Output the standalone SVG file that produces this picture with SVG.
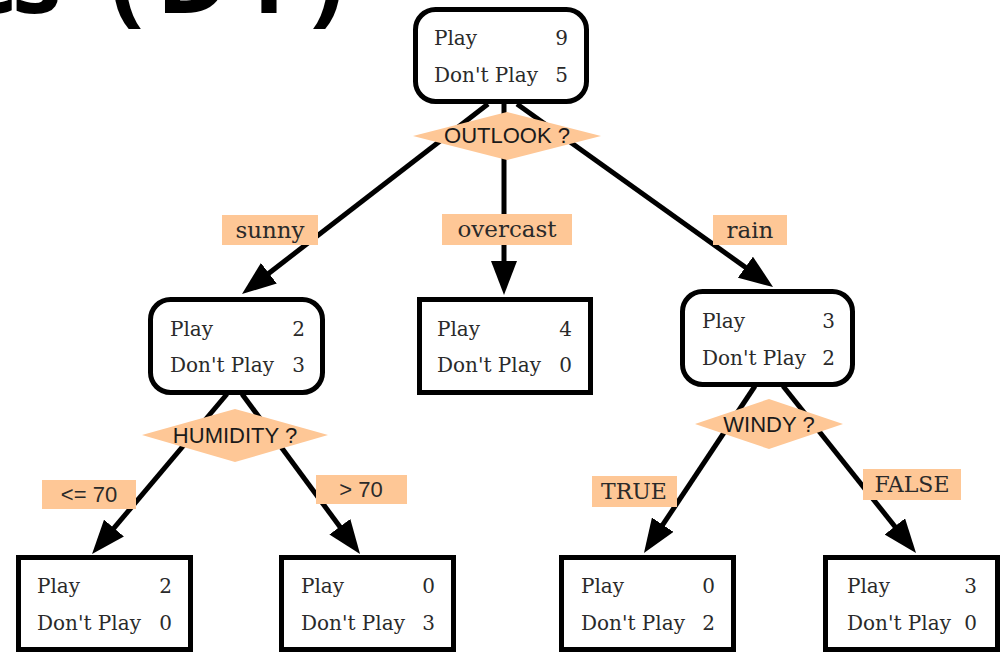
<svg xmlns="http://www.w3.org/2000/svg" width="1002" height="653" viewBox="0 0 1002 653">
<style>
.box{fill:#fff;stroke:#000;stroke-width:5}
.dia{fill:#fec796;stroke:none}
.lbl{fill:#fec796;stroke:none}
.nt{font-family:"DejaVu Serif",serif;font-size:20px;fill:#2a2a2a}
.nv{font-family:"DejaVu Serif",serif;font-size:20px;fill:#2a2a2a;text-anchor:end}
.qt{font-family:"Liberation Sans",Arial,sans-serif;font-size:22px;fill:#1a1a1a;text-anchor:middle}
.et{font-family:"DejaVu Serif",serif;font-size:23px;fill:#2a2a2a;text-anchor:middle}
.et2{font-family:"DejaVu Serif",serif;font-size:22px;fill:#2a2a2a;text-anchor:middle}
.es{font-family:"Liberation Sans",Arial,sans-serif;font-size:22px;fill:#2a2a2a;text-anchor:middle}
.edge{stroke:#000;stroke-width:5;fill:none;marker-end:url(#arr)}
.head{font-family:"Open Sans",sans-serif;font-weight:700;font-size:100px;fill:#000}
</style>
<defs>
<marker id="arr" markerUnits="userSpaceOnUse" viewBox="0 0 34 26" markerWidth="34" markerHeight="26" refX="24" refY="13" orient="auto">
<path d="M0,0 L34,13 L0,26 Z" fill="#000"/>
</marker>
</defs>
<text class="head" x="-40 12 100 110 156 240 310" y="13">es (DT)</text>
<g id="connectors">
<line class="edge" x1="488" y1="104" x2="249.9" y2="287.9"/>
<line class="edge" x1="504" y1="104" x2="504" y2="285"/>
<line class="edge" x1="517" y1="104" x2="764.9" y2="281.2"/>
<line class="edge" x1="227" y1="394" x2="98.5" y2="546.4"/>
<line class="edge" x1="242" y1="394" x2="354.1" y2="546"/>
<line class="edge" x1="755" y1="386" x2="649.5" y2="544.7"/>
<line class="edge" x1="783" y1="386" x2="909.8" y2="545.2"/>
<rect class="lbl" x="222" y="215" width="96" height="30"/>
<text class="et" x="270" y="238">sunny</text>
<rect class="lbl" x="442" y="214" width="130" height="31"/>
<text class="et" x="507" y="237">overcast</text>
<rect class="lbl" x="713" y="215" width="74" height="30"/>
<text class="et" x="750" y="238">rain</text>
<rect class="lbl" x="42" y="480" width="94" height="29"/>
<text class="es" x="89" y="502">&lt;= 70</text>
<rect class="lbl" x="316" y="475" width="91" height="29"/>
<text class="es" x="361" y="497">&gt; 70</text>
<rect class="lbl" x="592" y="476" width="85" height="31"/>
<text class="et2" x="634" y="499">TRUE</text>
<rect class="lbl" x="863" y="469" width="98" height="31"/>
<text class="et2" x="912" y="492">FALSE</text>
</g>
<g id="root">
<rect class="box" x="415.5" y="9.5" width="171" height="92" rx="20"/>
<text class="nt" x="434" y="45">Play</text><text class="nv" x="568" y="45">9</text>
<text class="nt" x="434" y="82">Don't Play</text><text class="nv" x="568" y="82">5</text>
<polygon class="dia" points="413,136 507,112 601,136 507,160"/>
<text class="qt" x="507" y="143">OUTLOOK ?</text>
</g>
<g id="sunny-node">
<rect class="box" x="150.5" y="299.5" width="172" height="93" rx="20"/>
<text class="nt" x="170" y="336">Play</text><text class="nv" x="305" y="336">2</text>
<text class="nt" x="170" y="372">Don't Play</text><text class="nv" x="305" y="372">3</text>
<polygon class="dia" points="142,435 235,409 328,435 235,462"/>
<text class="qt" x="235" y="443">HUMIDITY ?</text>
</g>
<g id="overcast-node">
<rect class="box" x="419.5" y="299.5" width="171" height="93"/>
<text class="nt" x="437" y="336">Play</text><text class="nv" x="572" y="336">4</text>
<text class="nt" x="437" y="372">Don't Play</text><text class="nv" x="572" y="372">0</text>
</g>
<g id="rain-node">
<rect class="box" x="682.5" y="291.5" width="170" height="93" rx="20"/>
<text class="nt" x="702" y="328">Play</text><text class="nv" x="835" y="328">3</text>
<text class="nt" x="702" y="365">Don't Play</text><text class="nv" x="835" y="365">2</text>
<polygon class="dia" points="695,424 769,399 843,424 769,449"/>
<text class="qt" x="769" y="432">WINDY ?</text>
</g>
<g id="leaf-humidity-low">
<rect class="box" x="18.5" y="557.5" width="172" height="92"/>
<text class="nt" x="37" y="593">Play</text><text class="nv" x="172" y="593">2</text>
<text class="nt" x="37" y="630">Don't Play</text><text class="nv" x="172" y="630">0</text>
</g>
<g id="leaf-humidity-high">
<rect class="box" x="281.5" y="557.5" width="172" height="92"/>
<text class="nt" x="301" y="593">Play</text><text class="nv" x="435" y="593">0</text>
<text class="nt" x="301" y="630">Don't Play</text><text class="nv" x="435" y="630">3</text>
</g>
<g id="leaf-windy-true">
<rect class="box" x="561.5" y="557.5" width="172" height="92"/>
<text class="nt" x="581" y="593">Play</text><text class="nv" x="715" y="593">0</text>
<text class="nt" x="581" y="630">Don't Play</text><text class="nv" x="715" y="630">2</text>
</g>
<g id="leaf-windy-false">
<rect class="box" x="825.5" y="557.5" width="172" height="92"/>
<text class="nt" x="847" y="593">Play</text><text class="nv" x="977" y="593">3</text>
<text class="nt" x="847" y="630">Don't Play</text><text class="nv" x="977" y="630">0</text>
</g>
</svg>
